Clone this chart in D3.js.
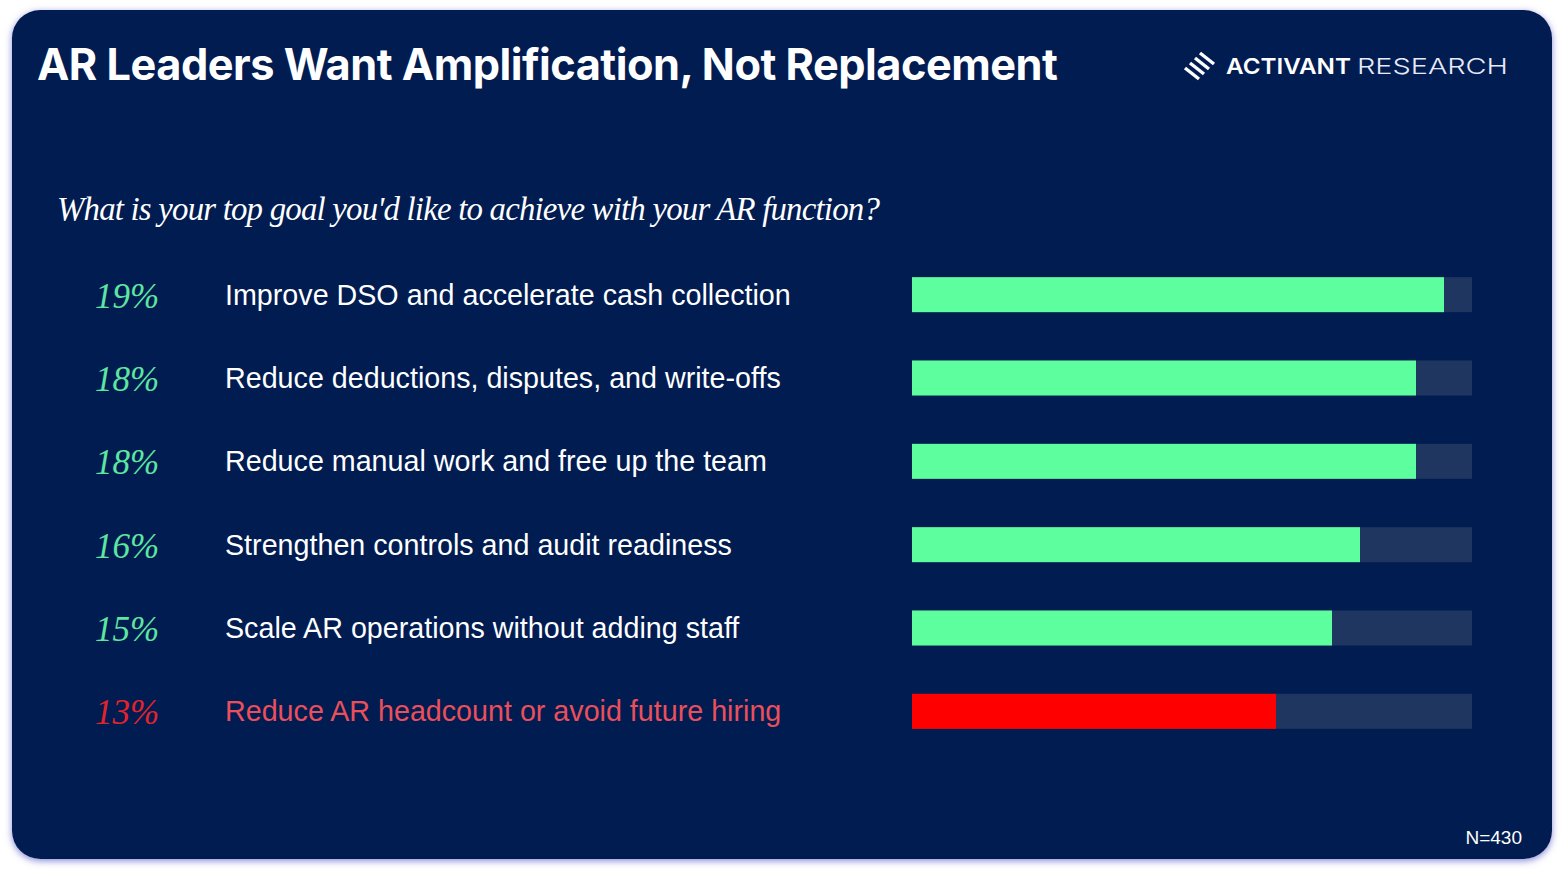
<!DOCTYPE html>
<html>
<head>
<meta charset="utf-8">
<script src="https://cdn.jsdelivr.net/npm/d3@7"></script>
<style>
  html, body { margin: 0; padding: 0; background: #ffffff; }
  svg { display: block; }
</style>
</head>
<body>
<svg id="chart" width="1564" height="870"></svg>
<script>
// ---- data ----
const categories = [
  "Improve DSO and accelerate cash collection",
  "Reduce deductions, disputes, and write-offs",
  "Reduce manual work and free up the team",
  "Strengthen controls and audit readiness",
  "Scale AR operations without adding staff",
  "Reduce AR headcount or avoid future hiring"
];
const values = [19, 18, 18, 16, 15, 13];
const highlighted = [false, false, false, false, false, true];
const maxValue = [20];
const titleText = "AR Leaders Want Amplification, Not Replacement";
const questionText = "What is your top goal you'd like to achieve with your AR function?";
const sampleText = "N=430";

// ---- layout ----
const W = 1564, H = 870;
const svg = d3.select("#chart");
const defs = svg.append("defs");
const f = defs.append("filter").attr("id", "glow").attr("x", "-5%").attr("y", "-5%").attr("width", "110%").attr("height", "110%");
f.append("feDropShadow").attr("dx", 0).attr("dy", 2).attr("stdDeviation", 3.5).attr("flood-color", "#7c7fd6").attr("flood-opacity", 0.9);

svg.append("rect").attr("x", 12).attr("y", 10).attr("width", 1540).attr("height", 849)
  .attr("rx", 28).attr("fill", "#061a51").attr("filter", "url(#glow)");

function fit(sel, target) {
  const w = sel.node().getComputedTextLength();
  const fs = parseFloat(sel.attr("font-size"));
  const nfs = fs * target / w;
  sel.attr("font-size", nfs);
  return nfs;
}

// Title
const title = svg.append("text").attr("x", 37).attr("y", 80)
  .attr("font-family", "Inter, 'Liberation Sans', sans-serif").attr("font-weight", 700)
  .attr("font-size", 44).attr("fill", "#ffffff").attr("letter-spacing", "-0.5px").text(titleText);
fit(title, 1021);

// Logo
const logo = svg.append("g");
[0, 1, 2, 3].forEach(i => {
  logo.append("line")
    .attr("x1", 1200 - 5 * i).attr("y1", 53 + 5 * i)
    .attr("x2", 1214 - 5 * i).attr("y2", 64 + 5 * i)
    .attr("stroke", "#ffffff").attr("stroke-width", 3.4).attr("stroke-linecap", "butt");
});
svg.append("text").attr("x", 1226).attr("y", 74)
  .attr("font-family", "Inter, 'Liberation Sans', sans-serif").attr("font-weight", 600)
  .attr("font-size", 22).attr("fill", "#ffffff").attr("textLength", 125).attr("lengthAdjust", "spacingAndGlyphs").text("ACTIVANT");
svg.append("text").attr("x", 1357).attr("y", 74)
  .attr("font-family", "Inter, 'Liberation Sans', sans-serif").attr("font-weight", 300)
  .attr("font-size", 22).attr("fill", "#e8ebf7").attr("textLength", 151).attr("lengthAdjust", "spacingAndGlyphs").text("RESEARCH");

// Question
const q = svg.append("text").attr("x", 57).attr("y", 220)
  .attr("font-family", "'Liberation Serif', 'DejaVu Serif', serif").attr("font-style", "italic")
  .attr("font-size", 36).attr("fill", "#ffffff").attr("letter-spacing", "-0.8px").text(questionText);
fit(q, 827);

// Scales
const y = d3.scaleBand().domain(categories).range([252, 752]).paddingInner(0.58).paddingOuter(0.29);
const x = d3.scaleLinear().domain([0, maxValue[0]]).range([912, 1472]);

const rows = svg.append("g").selectAll("g").data(categories).join("g");

rows.append("rect").attr("x", x(0)).attr("y", d => y(d) + 1).attr("width", x(maxValue[0]) - x(0))
  .attr("height", y.bandwidth()).attr("fill", "#1e3660");

rows.append("rect").attr("x", x(0)).attr("y", d => y(d) + 1)
  .attr("width", (d, i) => x(values[i]) - x(0)).attr("height", y.bandwidth())
  .attr("fill", (d, i) => highlighted[i] ? "#ff0000" : "#5cfe9d");

rows.append("text").attr("x", 95).attr("y", d => y(d) + y.bandwidth() / 2 + 14)
  .attr("font-family", "'Liberation Serif', 'DejaVu Serif', serif").attr("font-style", "italic")
  .attr("font-size", 35).attr("fill", (d, i) => highlighted[i] ? "#e3232c" : "#5fe5a2")
  .text((d, i) => values[i] + "%");

const labels = rows.append("text").attr("x", 225).attr("y", d => y(d) + y.bandwidth() / 2 + 11)
  .attr("font-family", "'Liberation Sans', Arial, sans-serif")
  .attr("font-size", 26).attr("fill", (d, i) => highlighted[i] ? "#ea4f5c" : "#ffffff")
  .text(d => d);
const lfs = fit(d3.select(labels.nodes()[0]), 566);
labels.attr("font-size", lfs);

// N
svg.append("text").attr("x", 1522).attr("y", 844).attr("text-anchor", "end")
  .attr("font-family", "'Liberation Sans', Arial, sans-serif").attr("font-size", 19)
  .attr("fill", "#ffffff").text(sampleText);
</script>
</body>
</html>
